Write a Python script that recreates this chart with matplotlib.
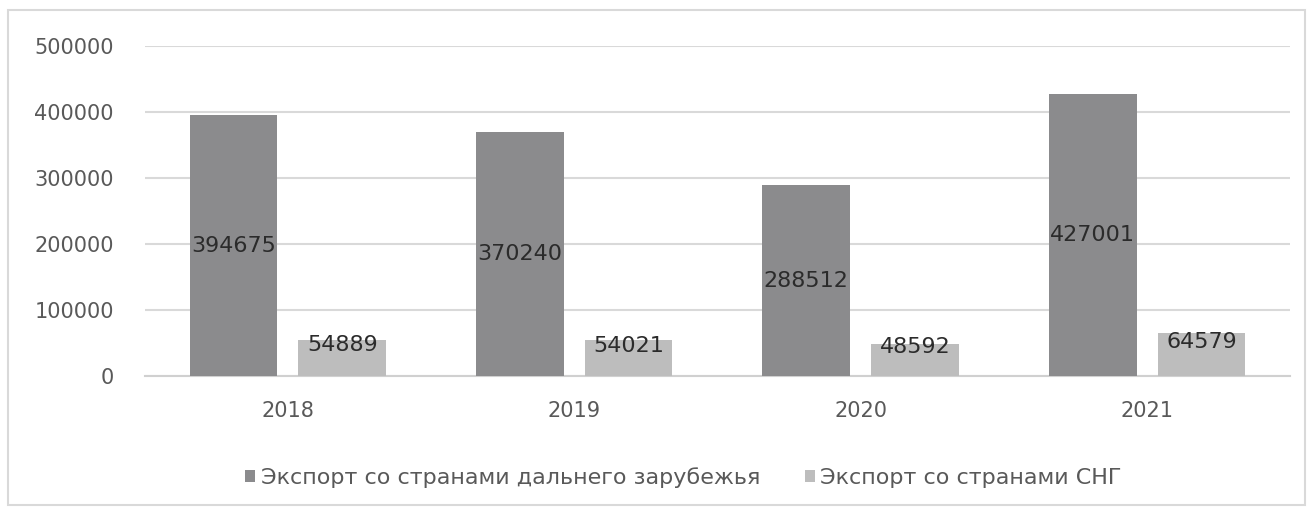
import matplotlib
matplotlib.use("Agg")
import matplotlib.pyplot as plt
import numpy as np
from matplotlib.patches import Rectangle

# ---- DATA ----
years = ["2018", "2019", "2020", "2021"]
far_abroad = [394675, 370240, 288512, 427001]
cis = [54889, 54021, 48592, 64579]
series_names = ["Экспорт со странами дальнего зарубежья", "Экспорт со странами СНГ"]

plt.rcParams["font.family"] = ["DejaVu Sans"]

fig = plt.figure(figsize=(13.14, 5.15), dpi=100)
ax = fig.add_axes([0.110, 0.270, 0.872, 0.641])

# outer chart border
fig.patches.append(Rectangle((0.006, 0.02), 0.987, 0.96, transform=fig.transFigure,
                             fill=False, edgecolor="#d9d9d9", linewidth=1.5))

x = np.arange(len(years))
w = 0.306
off = 0.19
dark = "#8b8b8d"
light = "#bdbdbd"

b1 = ax.bar(x - off, far_abroad, w, color=dark, label=series_names[0], zorder=3)
b2 = ax.bar(x + off, cis, w, color=light, label=series_names[1], zorder=3)

for rect, v in zip(b1, far_abroad):
    ax.text(rect.get_x() + rect.get_width() / 2, v / 2, str(v), ha="center", va="center",
            fontsize=16, color="#2b2b2b", zorder=4)
for rect, v in zip(b2, cis):
    ax.annotate(str(v), (rect.get_x() + rect.get_width() / 2, v / 2), xytext=(0, 9),
                textcoords="offset points", ha="center", va="center",
                fontsize=16, color="#2b2b2b", zorder=4)

ax.set_xlim(-0.5, len(years) - 0.5)
ax.set_ylim(0, 500000)
ax.set_yticks(np.arange(0, 500001, 100000))
ax.set_xticks(x)
ax.set_xticklabels(years)
ax.yaxis.grid(True, color="#d9d9d9", linewidth=1.5, zorder=0)
ax.set_axisbelow(True)
for s in ["top", "right", "left"]:
    ax.spines[s].set_visible(False)
ax.spines["bottom"].set_color("#d0d0d0")
ax.spines["bottom"].set_linewidth(1.5)
ax.tick_params(axis="both", length=0, labelsize=15, colors="#595959")
ax.tick_params(axis="y", pad=22)
ax.tick_params(axis="x", pad=18)

fig.legend(loc="center", bbox_to_anchor=(0.52, 0.072), ncol=2, frameon=False,
           fontsize=16, labelcolor="#595959", handlelength=0.45, handleheight=0.45,
           handletextpad=0.25, columnspacing=2.0)

fig.savefig("out.png", dpi=100)
